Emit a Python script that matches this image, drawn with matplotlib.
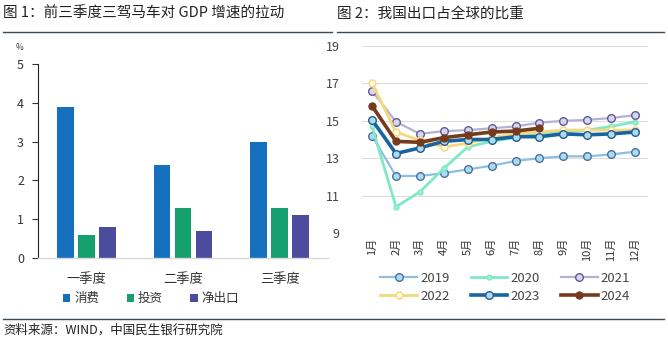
import numpy as np
import matplotlib
matplotlib.use("Agg")
import matplotlib.pyplot as plt
from matplotlib.lines import Line2D

plt.rcParams['font.family'] = ['Noto Sans CJK SC', 'DejaVu Sans']

# 图1 数据
quarters = ["一季度", "二季度", "三季度"]
consumption = [3.9, 2.4, 3.0]
investment = [0.6, 1.3, 1.3]
net_export = [0.8, 0.7, 1.1]

# 图2 数据
months = ["1月", "2月", "3月", "4月", "5月", "6月", "7月", "8月", "9月", "10月", "11月", "12月"]
share_2019 = [14.2, 12.05, 12.05, 12.2, 12.4, 12.6, 12.85, 13.0, 13.1, 13.1, 13.2, 13.35]
share_2020 = [14.7, 10.4, 11.2, 12.45, 13.6, 13.9, 14.1, 14.3, 14.4, 14.5, 14.7, 14.95]
share_2021 = [16.6, 14.95, 14.3, 14.45, 14.5, 14.6, 14.7, 14.9, 15.0, 15.05, 15.15, 15.3]
share_2022 = [17.0, 14.4, 13.95, 13.6, 13.8, 14.1, 14.3, 14.4, 14.5, 14.5, 14.5, 14.5]
share_2023 = [15.05, 13.25, 13.55, 13.9, 14.0, 14.0, 14.15, 14.15, 14.3, 14.25, 14.3, 14.4]
share_2024 = [15.8, 13.9, 13.85, 14.1, 14.25, 14.4, 14.45, 14.6]

W, H = 668, 342
fig = plt.figure(figsize=(W / 100, H / 100), dpi=100)

def box(x0, y0, x1, y1):
    return [x0 / W, 1 - y1 / H, (x1 - x0) / W, (y1 - y0) / H]

txt = "#333333"

# 标题与分隔线
fig.text(3 / W, 1 - 14 / H, "图 1：前三季度三驾马车对 GDP 增速的拉动", fontsize=10.5,
         color="#222222", va="center", ha="left")
fig.text(337 / W, 1 - 14 / H, "图 2：我国出口占全球的比重", fontsize=10.5,
         color="#222222", va="center", ha="left")
fig.add_artist(Line2D([3 / W, 332 / W], [1 - 32 / H] * 2, color="#3a4a55", lw=1))
fig.add_artist(Line2D([337 / W, 664 / W], [1 - 32 / H] * 2, color="#3a4a55", lw=1))
fig.add_artist(Line2D([3 / W, 664 / W], [1 - 319 / H] * 2, color="#3a4a55", lw=1))
fig.text(3 / W, 1 - 330 / H, "资料来源：WIND，中国民生银行研究院", fontsize=9,
         color="#222222", va="center", ha="left")

# 图1：柱状图
ax1 = fig.add_axes(box(38, 64, 328, 258))
x = np.arange(len(quarters))
bw = 0.175
off = 0.217
ax1.bar(x - off, consumption, bw, color="#1570BE", label="消费")
ax1.bar(x, investment, bw, color="#17A06F", label="投资")
ax1.bar(x + off, net_export, bw, color="#4B4C9E", label="净出口")
ax1.set_xlim(-0.5, 2.5)
ax1.set_ylim(0, 5)
ax1.set_yticks(range(6))
ax1.set_xticks(x)
ax1.set_xticklabels(quarters, fontsize=9.5, color=txt)
ax1.tick_params(axis="x", length=0, pad=11)
ax1.tick_params(axis="y", length=4, width=0.8, colors="#333333", labelsize=9, pad=6)
for s in ["top", "right"]:
    ax1.spines[s].set_visible(False)
ax1.spines["left"].set_color("#222222")
ax1.spines["left"].set_linewidth(0.8)
ax1.spines["bottom"].set_color("#D9D9D9")
ax1.spines["bottom"].set_linewidth(1)
fig.text(20 / W, 1 - 48 / H, "%", fontsize=6, color=txt, ha="center", va="center")
ax1.legend(loc="center", bbox_to_anchor=(0.39, -0.21), ncol=3, frameon=False,
           fontsize=9, handlelength=0.6, handleheight=0.6, handletextpad=0.3,
           columnspacing=2.2, labelcolor=txt)

# 图2：折线图
ax2 = fig.add_axes(box(362, 46, 648, 233))
m = np.arange(1, 13)
ax2.plot(m, share_2019, color="#8DBFE0", lw=1.6, marker="o", ms=5.5,
         mfc="#A7DDF3", mec="#4E6E9E", mew=1, label="2019")
ax2.plot(m, share_2020, color="#7FE8C6", lw=2, marker="o", ms=3.5,
         mfc="#9FF0D3", mec="#7FE8C6", label="2020")
ax2.plot(m, share_2021, color="#B3B2D4", lw=1.6, marker="o", ms=5.5,
         mfc="#D9D5F0", mec="#5C5C95", mew=1, label="2021")
ax2.plot(m, share_2022, color="#F5D77C", lw=2, marker="o", ms=5,
         mfc="#FFFBE2", mec="#F5D77C", mew=1, label="2022")
ax2.plot(m, share_2023, color="#17649E", lw=2.6, marker="o", ms=5.5,
         mfc="#A7DDF3", mec="#2B5A86", mew=1, label="2023")
ax2.plot(m[:len(share_2024)], share_2024, color="#763A1C", lw=2.6, marker="o", ms=5,
         mfc="#763A1C", mec="#763A1C", label="2024")
ax2.set_xlim(0.58, 12.54)
ax2.set_ylim(9, 19)
ax2.set_yticks([9, 11, 13, 15, 17, 19])
ax2.set_xticks(m)
ax2.set_xticklabels(months, rotation=90, fontsize=8, color=txt)
ax2.tick_params(axis="both", length=0)
ax2.tick_params(axis="y", labelsize=9, colors="#444444", pad=16)
ax2.grid(axis="y", color="#DDDDDD", lw=0.8)
ax2.set_axisbelow(True)
for s in ax2.spines.values():
    s.set_visible(False)

# 图例按行排列：2019 2020 2021 / 2022 2023 2024
h, l = ax2.get_legend_handles_labels()
order = [0, 3, 1, 4, 2, 5]
ax2.legend([h[i] for i in order], [l[i] for i in order], loc="center",
           bbox_to_anchor=(0.5, -0.29), ncol=3, frameon=False,
           fontsize=9.5, handlelength=2.8, handletextpad=0.2, columnspacing=1.6,
           labelspacing=0.4, labelcolor="#444444")

fig.savefig("out.png", dpi=100)
